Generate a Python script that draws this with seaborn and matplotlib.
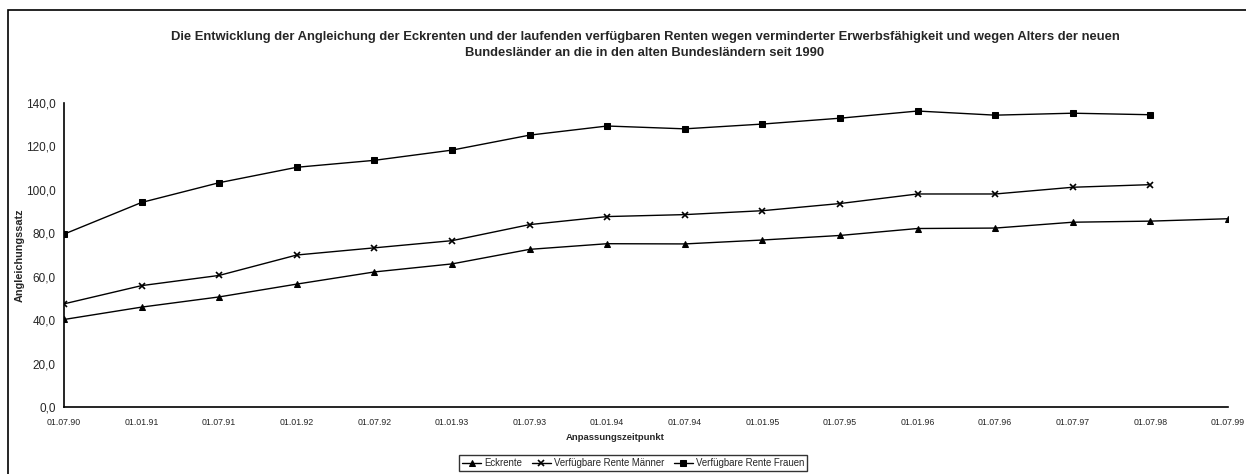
import numpy as np
import pandas as pd
import matplotlib
matplotlib.use("Agg")
import matplotlib.pyplot as plt
import seaborn as sns
from matplotlib.patches import Rectangle

# Anpassungszeitpunkte
dates = ["01.07.90", "01.01.91", "01.07.91", "01.01.92", "01.07.92", "01.01.93",
         "01.07.93", "01.01.94", "01.07.94", "01.01.95", "01.07.95", "01.01.96",
         "01.07.96", "01.07.97", "01.07.98", "01.07.99"]

eckrente = [40.3, 46.0, 50.7, 56.6, 62.2, 65.9, 72.6, 75.2, 75.1, 76.9, 79.0, 82.2,
            82.4, 85.1, 85.6, 86.7]
maenner = [47.5, 55.9, 60.6, 70.0, 73.3, 76.6, 84.0, 87.7, 88.6, 90.4, 93.7, 98.1,
           98.1, 101.2, 102.4, np.nan]
frauen = [79.6, 94.2, 103.3, 110.4, 113.6, 118.3, 125.2, 129.4, 128.1, 130.3, 133.0,
          136.3, 134.4, 135.3, 134.6, np.nan]

yticks = [0, 20, 40, 60, 80, 100, 120, 140]

title = ("Die Entwicklung der Angleichung der Eckrenten und der laufenden verfügbaren "
         "Renten wegen verminderter Erwerbsfähigkeit und wegen Alters der neuen\n"
         "Bundesländer an die in den alten Bundesländern seit 1990")

sns.set_style("white")
plt.rcParams["font.family"] = ["Liberation Sans", "DejaVu Sans"]

fig = plt.figure(figsize=(12.46, 4.74), dpi=100)
ax = fig.add_axes([64 / 1246, 1 - 407 / 474, (1228 - 64) / 1246, (407 - 103) / 474])

df = pd.DataFrame({"pos": np.arange(len(dates)), "Eckrente": eckrente,
                   "Männer": maenner, "Frauen": frauen})

sns.lineplot(data=df, x="pos", y="Eckrente", ax=ax, color="black", lw=1.0,
             marker="^", markersize=5, mec="black", label="Eckrente")
sns.lineplot(data=df, x="pos", y="Männer", ax=ax, color="black", lw=1.0,
             marker="x", markersize=5, mec="black", mew=1.2,
             label="Verfügbare Rente Männer")
sns.lineplot(data=df, x="pos", y="Frauen", ax=ax, color="black", lw=1.0,
             marker="s", markersize=5, mec="black", label="Verfügbare Rente Frauen")

ax.set_xlim(0, len(dates) - 1)
ax.set_ylim(0, 140)
ax.set_xticks(range(len(dates)))
ax.set_xticklabels(dates, fontsize=6.3)
ax.set_yticks(yticks)
ax.set_yticklabels([f"{v:.1f}".replace(".", ",") for v in yticks], fontsize=8.5)

for s in ["top", "right"]:
    ax.spines[s].set_visible(False)
for s in ["left", "bottom"]:
    ax.spines[s].set_color("black")
    ax.spines[s].set_linewidth(1.2)
ax.tick_params(axis="both", direction="inout", length=6, width=1, color="black", pad=3)
ax.tick_params(axis="x", pad=5)

ax.set_xlabel("Anpassungszeitpunkt", fontsize=6.8, fontweight="bold")
ax.xaxis.set_label_coords((615 - 64) / (1228 - 64), -0.085)
ax.set_ylabel("Angleichungssatz", fontsize=7.8, fontweight="bold")
ax.yaxis.set_label_coords(-(64 - 25) / (1228 - 64), 0.5)

fig.text(645 / 1246, 1 - 45 / 474, title, ha="center", va="center",
         fontsize=9.4, fontweight="bold", linespacing=1.4)

leg = ax.legend(loc="center", bbox_to_anchor=(633 / 1246, 1 - 463 / 474),
                bbox_transform=fig.transFigure, ncol=3, fontsize=6.9, frameon=True,
                fancybox=False, edgecolor="black", handlelength=2.0, handletextpad=0.3,
                columnspacing=1.0, borderpad=0.3)
leg.get_frame().set_linewidth(1.0)

fig.patches.append(Rectangle((8 / 1246, -0.01), 1.0, 1 - 10 / 474 + 0.01,
                             transform=fig.transFigure, fill=False,
                             edgecolor="black", lw=1.2, figure=fig))

fig.savefig("out.png", dpi=100)
